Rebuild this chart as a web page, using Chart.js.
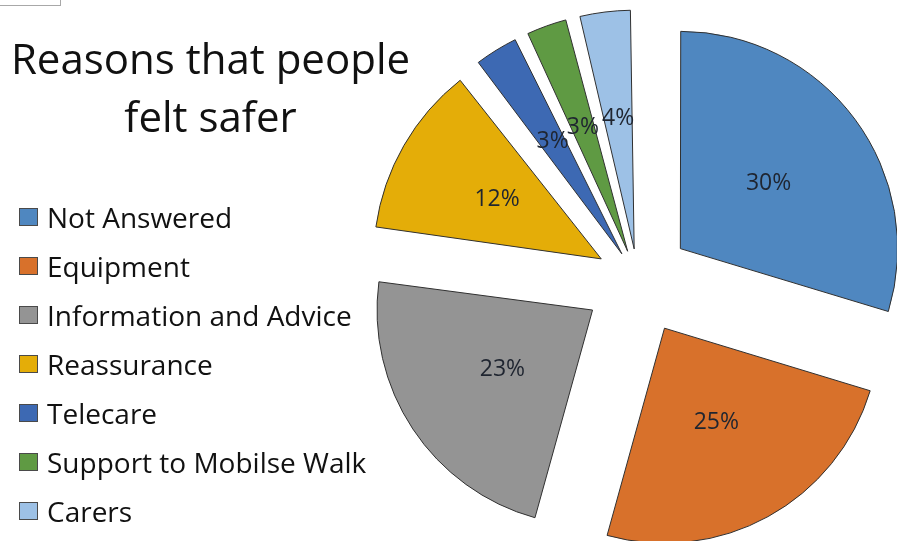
<!DOCTYPE html>
<html>
<head>
<meta charset="utf-8">
<script src="https://cdn.jsdelivr.net/npm/chart.js@4.4.0/dist/chart.umd.min.js"></script>
<style>
  html, body { margin: 0; padding: 0; background: #fff; }
  body { width: 897px; height: 541px; position: relative; overflow: hidden; font-family: "Open Sans", sans-serif; color: #111; }
  #chart { position: absolute; left: 0; top: 0; }
  #corner { position: absolute; left: 0; top: 0; width: 60px; height: 5px; border-right: 1px solid #a8a8a8; border-bottom: 1px solid #a8a8a8; }
  #title { position: absolute; left: 0; top: 29px; width: 421px; text-align: center; font-size: 42px; line-height: 58px; }
  #legend { position: absolute; left: 19px; top: 192px; }
  .item { height: 49px; display: flex; align-items: center; font-size: 28px; white-space: nowrap; }
  .box { width: 17px; height: 16px; border: 1px solid #4a4a4a; margin-right: 9px; flex: none; }
</style>
</head>
<body>
<div id="corner"></div>
<canvas id="chart" width="897" height="541"></canvas>
<div id="title">Reasons that people<br>felt safer</div>
<div id="legend"></div>
<script>
const categories = ["Not Answered", "Equipment", "Information and Advice", "Reassurance", "Telecare", "Support to Mobilse Walk", "Carers"];
// shares in percent (labels show them rounded)
const percentages = [29.7, 24.6, 22.8, 12.4, 3.4, 3.2, 3.9];
const sliceColors = ["#4f87c0", "#d8712b", "#949494", "#e4ad08", "#3d69b3", "#5f9a43", "#9dc1e6"];

// how far every slice is pulled out from the centre, in px
const explode = 55;
const total = percentages.reduce((a, b) => a + b, 0);

// chart.js shifts an arc by offset/4 * (2 - sin(circumference)), so undo that to get the same shift for all
const sliceOffset = (c) => {
    const circ = (c.parsed / total) * 2 * Math.PI;
    return (4 * explode) / (2 - Math.sin(Math.min(Math.PI, circ)));
};

const sliceLabels = {
    id: "sliceLabels",
    afterDatasetsDraw(chart) {
        const ctx = chart.ctx;
        const meta = chart.getDatasetMeta(0);
        ctx.save();
        ctx.font = '23px "Open Sans"';
        ctx.fillStyle = "#1f2530";
        ctx.textAlign = "center";
        ctx.textBaseline = "middle";
        meta.data.forEach((arc, i) => {
            const p = arc.getProps(["x", "y", "startAngle", "endAngle", "outerRadius"]);
            const mid = (p.startAngle + p.endAngle) / 2;
            const r = explode + p.outerRadius * 0.5;
            const txt = Math.round((percentages[i] / total) * 100) + "%";
            ctx.fillText(txt, p.x + Math.cos(mid) * r, p.y + Math.sin(mid) * r);
        });
        ctx.restore();
    },
};

new Chart(document.getElementById("chart"), {
    type: "pie",
    data: {
        labels: categories,
        datasets: [
            {
                data: percentages,
                backgroundColor: sliceColors,
                borderColor: "#303030",
                borderWidth: 1,
                offset: sliceOffset,
                hoverOffset: 0,
            },
        ],
    },
    options: {
        responsive: false,
        animation: false,
        devicePixelRatio: 1,
        radius: 215,
        layout: { padding: { left: 379, right: 0, top: 19, bottom: 0 } },
        plugins: {
            legend: { display: false },
            tooltip: { enabled: false },
        },
    },
    plugins: [sliceLabels],
});

// legend built from the same arrays
const legend = document.getElementById("legend");
categories.forEach((name, i) => {
    const row = document.createElement("div");
    row.className = "item";
    const box = document.createElement("span");
    box.className = "box";
    box.style.background = sliceColors[i];
    row.appendChild(box);
    row.appendChild(document.createTextNode(name));
    legend.appendChild(row);
});
</script>
</body>
</html>
